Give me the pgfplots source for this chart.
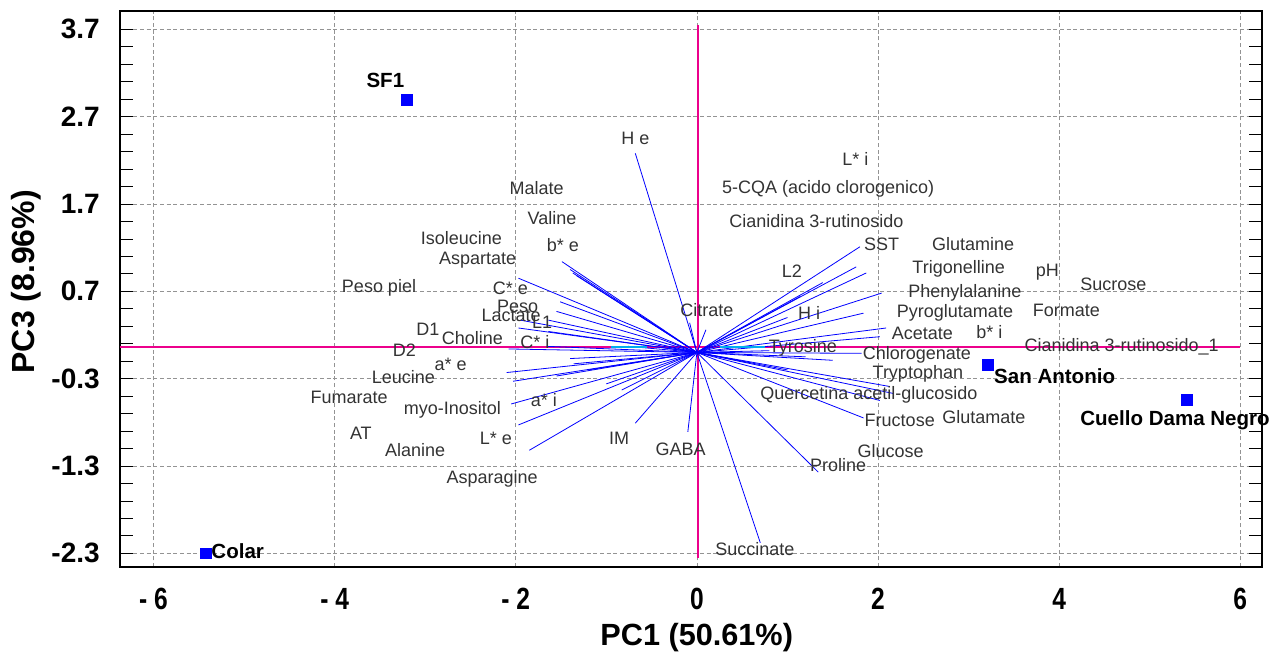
\documentclass[border=0pt]{standalone}
\usepackage{pgfplots}
\pgfplotsset{compat=1.18}
\usepackage{fontspec}
\setmainfont{Liberation Sans}
\newfontfamily\condfont[FakeStretch=0.8]{Liberation Sans}
\definecolor{lblgray}{HTML}{333333}
\definecolor{pblue}{RGB}{0,0,255}
\definecolor{pmag}{RGB}{255,0,255}
\definecolor{pcyan}{RGB}{0,230,230}

\pgfplotstableread[col sep=comma]{
x,y,u,v
0,0,-0.68,2.28
0,0,-1.49,1.04
0,0,-1.40,0.95
0,0,-1.37,0.91
0,0,-1.33,0.88
0,0,-1.97,0.85
0,0,-1.51,0.58
0,0,-1.55,0.47
0,0,-1.95,0.37
0,0,-1.64,0.37
0,0,-1.97,0.28
0,0,-1.64,0.24
0,0,-2.08,0.04
0,0,-1.66,0.07
0,0,-0.76,0.07
0,0,-0.08,0.34
0,0,-2.10,-0.23
0,0,-2.03,-0.33
0,0,-1.55,-0.27
0,0,-1.40,-0.07
0,0,-1.36,-0.13
0,0,-1.20,-0.20
0,0,-2.05,-0.59
0,0,-1.97,-0.83
0,0,-1.85,-1.12
0,0,-1.00,-0.36
0,0,-0.83,-0.43
0,0,-0.68,-0.81
0,0,-0.10,-0.91
0,0,0.10,0.26
0,0,1.80,1.21
0,0,1.76,0.98
0,0,1.87,0.91
0,0,1.39,0.80
0,0,1.14,0.64
0,0,2.04,0.68
0,0,1.84,0.45
0,0,2.09,0.28
0,0,2.02,0.18
0,0,1.00,0.40
0,0,1.82,-0.01
0,0,1.50,-0.09
0,0,0.80,0.02
0,0,1.20,-0.05
0,0,2.13,-0.39
0,0,2.17,-0.47
0,0,2.02,-0.55
0,0,1.84,-0.75
0,0,1.34,-1.37
0,0,0.70,-2.18
0,0,1.00,-0.20
0,0,0.60,-0.12
}\vectors

\pgfplotstableread[col sep=comma]{
x,y,label
-0.68,2.45,H e
1.75,2.21,L* i
1.45,1.87,5-CQA (acido clorogenico)
-1.77,1.88,Malate
-1.60,1.54,Valine
1.32,1.51,Cianidina 3-rutinosido
-1.48,1.23,b* e
-2.60,1.31,Isoleucine
2.04,1.24,SST
3.05,1.24,Glutamine
-2.42,1.06,Aspartate
2.89,0.96,Trigonelline
1.05,0.93,L2
3.87,0.92,pH
4.60,0.78,Sucrose
-2.06,0.74,C* e
-3.51,0.74,Peso piel
2.96,0.68,Phenylalanine
-1.98,0.53,Peso
0.11,0.48,Citrate
4.08,0.48,Formate
1.24,0.45,H i
2.85,0.45,Pyroglutamate
-2.05,0.43,Lactate
-1.71,0.35,L1
-2.97,0.26,D1
-2.48,0.17,Choline
2.49,0.22,Acetate
3.23,0.23,b* i
-1.79,0.12,C* i
4.69,0.07,Cianidina 3-rutinosido\_1
1.17,0.05,Tyrosine
-3.23,0.03,D2
2.43,-0.03,Chlorogenate
-2.72,-0.14,a* e
2.44,-0.25,Tryptophan
-3.24,-0.28,Leucine
-3.84,-0.51,Fumarate
1.90,-0.49,Quercetina acetil-glucosido
-1.69,-0.54,a* i
-2.70,-0.66,myo-Inositol
3.17,-0.74,Glutamate
2.24,-0.78,Fructose
-3.71,-0.93,AT
-2.22,-0.98,L* e
-0.86,-0.98,IM
-0.18,-1.11,GABA
-3.11,-1.12,Alanine
2.14,-1.13,Glucose
1.56,-1.29,Proline
-2.26,-1.45,Asparagine
0.64,-2.25,Succinate
}\varlabels

\pgfplotstableread[col sep=comma]{
x,y,label
-3.20,2.89,SF1
-5.42,-2.30,Colar
3.21,-0.14,San Antonio
5.41,-0.54,Cuello Dama Negro
}\scores

\pgfplotstableread[col sep=comma]{
x,y,label
-3.44,3.12,SF1
-5.07,-2.27,Colar
3.95,-0.27,San Antonio
5.28,-0.78,Cuello Dama Negro
}\scorelabels

\begin{document}
\begin{tikzpicture}
\begin{axis}[
  scale only axis, width=856.5pt, height=417pt,
  xmin=-6.37, xmax=6.24, ymin=-2.457, ymax=3.91,
  xtick={-6,-4,-2,0,2,4,6},
  xticklabels={- 6,- 4,- 2,0,2,4,6},
  ytick={-2.3,-1.3,-0.3,0.7,1.7,2.7,3.7},
  yticklabels={-2.3,-1.3,-0.3,0.7,1.7,2.7,3.7},
  minor y tick num=4,
  xtick pos=bottom, ytick pos=both, yticklabel pos=left,
  xtick style={draw=none},
  ytick style={black, line width=0.6pt},
  tick align=inside,
  major tick length=10pt, minor tick length=10pt,
  grid=major,
  major grid style={gray!85, dash pattern=on 3pt off 2pt, line width=0.5pt},
  axis line style={black, line width=0.9pt},
  xticklabel style={font=\condfont\bfseries\fontsize{23}{23}\selectfont, anchor=center, yshift=-24pt},
  yticklabel style={font=\bfseries\fontsize{21}{21}\selectfont, anchor=east, inner sep=0pt, xshift=-15pt},
  xlabel={PC1 (50.61\%)},
  ylabel={PC3 (8.96\%)},
  xlabel style={font=\bfseries\fontsize{23}{23}\selectfont, at={(axis description cs:0.505,0)}, anchor=center, yshift=-53pt},
  ylabel style={font=\bfseries\fontsize{24}{24}\selectfont, at={(axis description cs:-0.0817,0.513)}, anchor=center},
  clip=false,
]
\coordinate (SW) at (rel axis cs:0,0);
\coordinate (NE) at (rel axis cs:1,1);
% reference lines
\addplot[magenta, line width=1.1pt, mark=none, solid] coordinates {(-6.37,0.06) (6.0,0.06)};
\addplot[magenta, line width=1.1pt, mark=none, solid] coordinates {(0.01,-2.35) (0.01,3.75)};
% vectors
\addplot[pblue, line width=0.6pt, mark=none, quiver={u=\thisrow{u}, v=\thisrow{v}}] table[x=x, y=y] {\vectors};
\addplot[cyan, line width=1.2pt, mark=none, solid] coordinates {(0.25,0.06) (0.75,0.06)};
\addplot[cyan, line width=1.2pt, mark=none, solid] coordinates {(-0.95,0.06) (-0.55,0.06)};
% variable labels
\addplot[only marks, mark=none,
  nodes near coords, point meta=explicit symbolic, nodes near coords align={center},
  nodes near coords style={anchor=center, inner sep=0pt, text=lblgray, font=\fontsize{13.5}{14}\selectfont}]
  table[x=x, y=y, meta=label] {\varlabels};
% scores
\addplot[only marks, mark=square*, mark size=4pt, pblue, mark options={draw=pblue, fill=pblue}] table[x=x, y=y] {\scores};
\addplot[only marks, mark=none,
  nodes near coords, point meta=explicit symbolic, nodes near coords align={center},
  nodes near coords style={anchor=center, inner sep=0pt, text=black, font=\bfseries\fontsize{15.4}{16}\selectfont}]
  table[x=x, y=y, meta=label] {\scorelabels};
\end{axis}
\pgfresetboundingbox
\path[use as bounding box] ([shift={(-90pt,-65.25pt)}]SW) rectangle ([shift={(12.75pt,8.25pt)}]NE);
\end{tikzpicture}
\end{document}
